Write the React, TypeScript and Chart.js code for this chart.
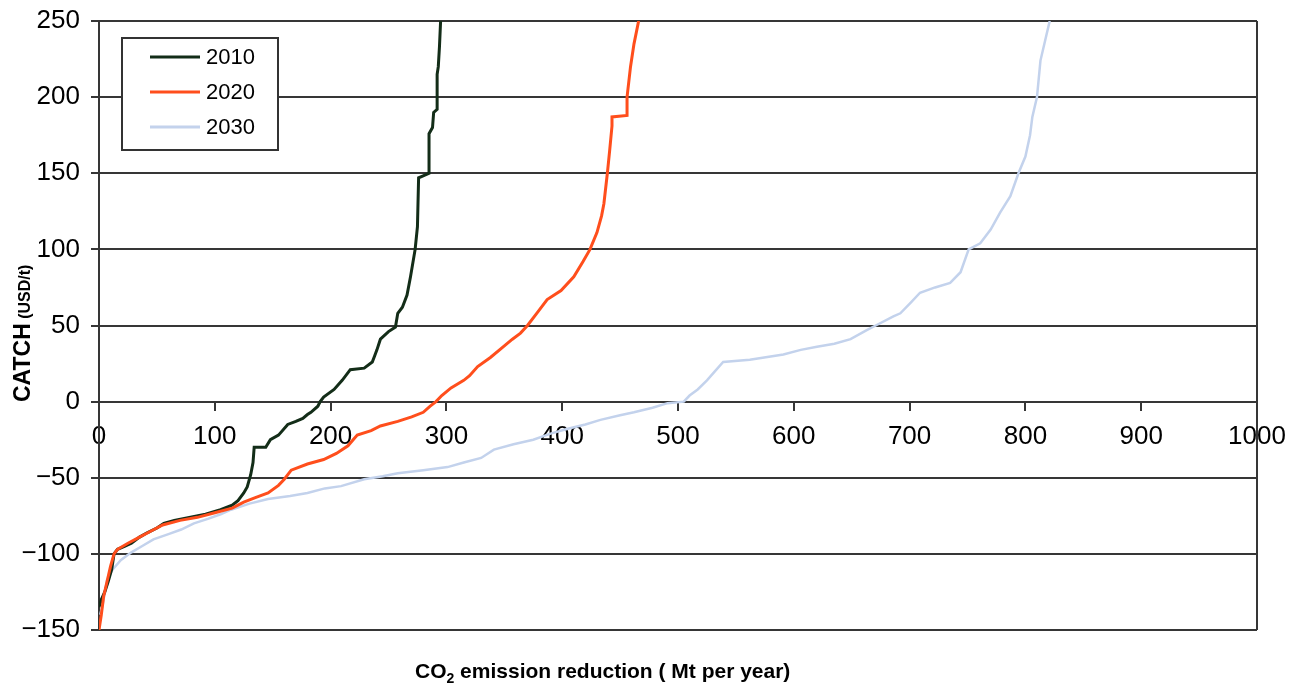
import React, { useEffect, useRef } from "react";
import { Chart, registerables } from "chart.js";

Chart.register(...registerables);

const seriesLabels = ["2010", "2020", "2030"];
const seriesColors = ["#132d18", "#ff4e1c", "#c3d2ec"];

const x2010 = [0, 2, 5, 8, 11, 13, 16, 22, 28, 35, 42, 50, 56, 65, 79, 92, 105, 115, 120, 125, 128, 131, 133, 134, 144, 148, 155, 163, 170, 176, 180, 183, 189, 191, 194, 203, 210, 217, 229, 236, 238, 240, 243, 250, 256, 258, 262, 266, 269, 273, 275, 276, 285, 285, 288, 289, 292, 292, 293, 294, 295];
const y2010 = [-135, -130, -125, -118, -110, -100, -97, -95, -93, -89, -86, -83, -80, -78, -76, -74, -71, -68, -65, -60, -56, -48, -40, -30, -30, -25, -22, -15, -13, -11, -8.5, -7, -3, 0, 3, 8, 14, 21, 22, 26, 30, 34, 41, 46, 49, 58, 62, 70, 82, 100, 115, 147, 150, 176, 180, 190, 192, 215, 220, 233, 250];

const x2020 = [0, 2, 4, 7, 10, 13, 16, 25, 35, 45, 55, 70, 85, 100, 115, 125, 135, 146, 155, 160, 166, 180, 194, 205, 215, 223, 235, 243, 258, 270, 280, 286, 291, 296, 304, 315, 320, 327, 338, 349, 357, 364, 370, 378, 387, 399, 410, 418, 424, 430, 434, 436, 439, 441, 443, 443, 456, 456, 459, 462, 466];
const y2020 = [-150, -140, -128, -118, -108, -100, -97, -93, -89, -85, -81, -78, -76, -73, -70, -66, -63, -60, -55, -51, -45, -41, -38, -34, -29, -22, -19, -16, -13, -10, -7, -3, 0, 4, 9, 14, 17, 23, 29, 36, 41, 45, 50, 58, 67, 73, 82, 92, 100, 111, 122, 130, 150, 165, 181, 187, 188, 200, 220, 235, 250];

const x2030 = [1, 3, 7, 12, 19, 28, 37, 47, 60, 71, 82, 94, 105, 114, 130, 146, 165, 180, 195, 209, 229, 245, 258, 280, 301, 315, 330, 341, 358, 375, 390, 404, 420, 433, 450, 462, 478, 491, 505, 510, 517, 525, 532, 539, 562, 591, 606, 620, 635, 649, 663, 672, 686, 692, 701, 709, 722, 735, 744, 751, 761, 770, 778, 787, 794, 800, 804, 806, 810, 813, 817, 821];
const y2030 = [-140, -134, -117, -110, -104, -99, -95, -90.5, -87, -84, -80, -77, -74, -71, -67, -64, -62, -60, -57, -55.5, -51, -49, -47, -45, -43, -40, -37, -31.5, -28, -25, -21, -18, -15, -12, -9, -7, -4, -1, 0, 4, 8, 14, 20, 26, 27.5, 31, 34, 36, 38, 41, 47, 50.5, 56, 58, 65, 71.5, 75, 78, 85, 100, 104, 113, 124, 135, 150, 161, 175, 187, 200, 224, 237, 250];

const xTickMin = 0;
const xTickMax = 1000;
const xTickStep = 100;
const yTickMin = -150;
const yTickMax = 250;
const yTickStep = 50;

const xTitleMain = "CO";
const xTitleSub = "2";
const xTitleRest = " emission reduction ( Mt per year)";
const yTitleMain = "CATCH";
const yTitleUnit = " (USD/t)";

const FONT = "'Liberation Sans', Arial, sans-serif";
const GRID = "#363636";

function zip(xs: number[], ys: number[]) {
  return xs.map((x, i) => ({ x, y: ys[i] }));
}

const customPlugin = {
  id: "custom",
  afterDraw(chart: any) {
    const { ctx, chartArea } = chart;
    ctx.save();
    ctx.strokeStyle = GRID;
    ctx.lineWidth = 2;
    ctx.beginPath();
    ctx.moveTo(chartArea.right, chartArea.top);
    ctx.lineTo(chartArea.right, chartArea.bottom);
    ctx.stroke();

    const lx = chartArea.left + 23;
    const ly = chartArea.top + 17;
    const lw = 156;
    const lh = 112;
    ctx.fillStyle = "#ffffff";
    ctx.fillRect(lx, ly, lw, lh);
    ctx.strokeStyle = "#333333";
    ctx.lineWidth = 2;
    ctx.strokeRect(lx, ly, lw, lh);
    chart.data.datasets.forEach((ds: any, i: number) => {
      const cy = ly + 19 + i * 35;
      ctx.strokeStyle = ds.borderColor;
      ctx.lineWidth = 3;
      ctx.beginPath();
      ctx.moveTo(lx + 28, cy);
      ctx.lineTo(lx + 78, cy);
      ctx.stroke();
      ctx.fillStyle = "#000";
      ctx.font = `22px ${FONT}`;
      ctx.textBaseline = "middle";
      ctx.textAlign = "left";
      ctx.fillText(ds.label, lx + 84, cy + 1);
    });

    ctx.fillStyle = "#000";
    ctx.textBaseline = "alphabetic";
    ctx.textAlign = "left";
    let tx = 415;
    const ty = 678;
    ctx.font = `bold 21px ${FONT}`;
    ctx.fillText(xTitleMain, tx, ty);
    tx += ctx.measureText(xTitleMain).width;
    ctx.font = `bold 14px ${FONT}`;
    ctx.fillText(xTitleSub, tx, ty + 5);
    tx += ctx.measureText(xTitleSub).width;
    ctx.font = `bold 21px ${FONT}`;
    ctx.fillText(xTitleRest, tx, ty);

    ctx.translate(30, 402);
    ctx.rotate(-Math.PI / 2);
    ctx.font = `bold 23px ${FONT}`;
    ctx.fillText(yTitleMain, 0, 0);
    const w = ctx.measureText(yTitleMain).width;
    ctx.font = `bold 16px ${FONT}`;
    ctx.fillText(yTitleUnit, w, 0);
    ctx.restore();
  },
};

export default function App() {
  const ref = useRef<HTMLCanvasElement>(null);
  useEffect(() => {
    if (!ref.current) return;
    const chart = new Chart(ref.current, {
      type: "line",
      data: {
        datasets: [
          { label: seriesLabels[0], data: zip(x2010, y2010), borderColor: seriesColors[0], borderWidth: 3, order: 1 },
          { label: seriesLabels[1], data: zip(x2020, y2020), borderColor: seriesColors[1], borderWidth: 3, order: 0 },
          { label: seriesLabels[2], data: zip(x2030, y2030), borderColor: seriesColors[2], borderWidth: 2.5, order: 2 },
        ].map((d) => ({ ...d, pointRadius: 0, tension: 0, fill: false, borderJoinStyle: "miter" as const })),
      },
      options: {
        animation: false,
        responsive: true,
        maintainAspectRatio: false,
        layout: { padding: { top: 21, right: 38, bottom: 56, left: 0 } },
        plugins: { legend: { display: false }, tooltip: { enabled: false }, title: { display: false } },
        scales: {
          x: {
            type: "linear",
            position: { y: 0 } as any,
            min: xTickMin,
            max: xTickMax,
            ticks: {
              stepSize: xTickStep,
              color: "#000",
              font: { family: FONT, size: 26 },
              padding: 12,
              maxRotation: 0,
              callback: (v: any) => String(v),
            },
            grid: { drawOnChartArea: false, drawTicks: true, tickLength: 8, color: GRID, lineWidth: 2 },
            border: { display: true, color: GRID, width: 2 },
            afterFit: (scale: any) => {
              scale.paddingLeft = 0;
              scale.paddingRight = 0;
            },
          },
          y: {
            type: "linear",
            min: yTickMin,
            max: yTickMax,
            ticks: {
              stepSize: yTickStep,
              color: "#000",
              font: { family: FONT, size: 26 },
              padding: 11,
              callback: (v: any) => (Number(v) < 0 ? "\u2212" + Math.abs(Number(v)) : String(v)),
            },
            grid: { color: GRID, lineWidth: 2, tickLength: 8, drawTicks: true },
            border: { display: true, color: GRID, width: 2 },
            afterFit: (scale: any) => {
              scale.width = 99;
              scale.paddingTop = 0;
              scale.paddingBottom = 0;
            },
          },
        },
      },
      plugins: [customPlugin],
    });
    return () => chart.destroy();
  }, []);
  return (
    <div style={{ position: "absolute", left: 0, top: 0, width: 1295, height: 686, background: "#fff" }}>
      <canvas ref={ref} />
    </div>
  );
}
